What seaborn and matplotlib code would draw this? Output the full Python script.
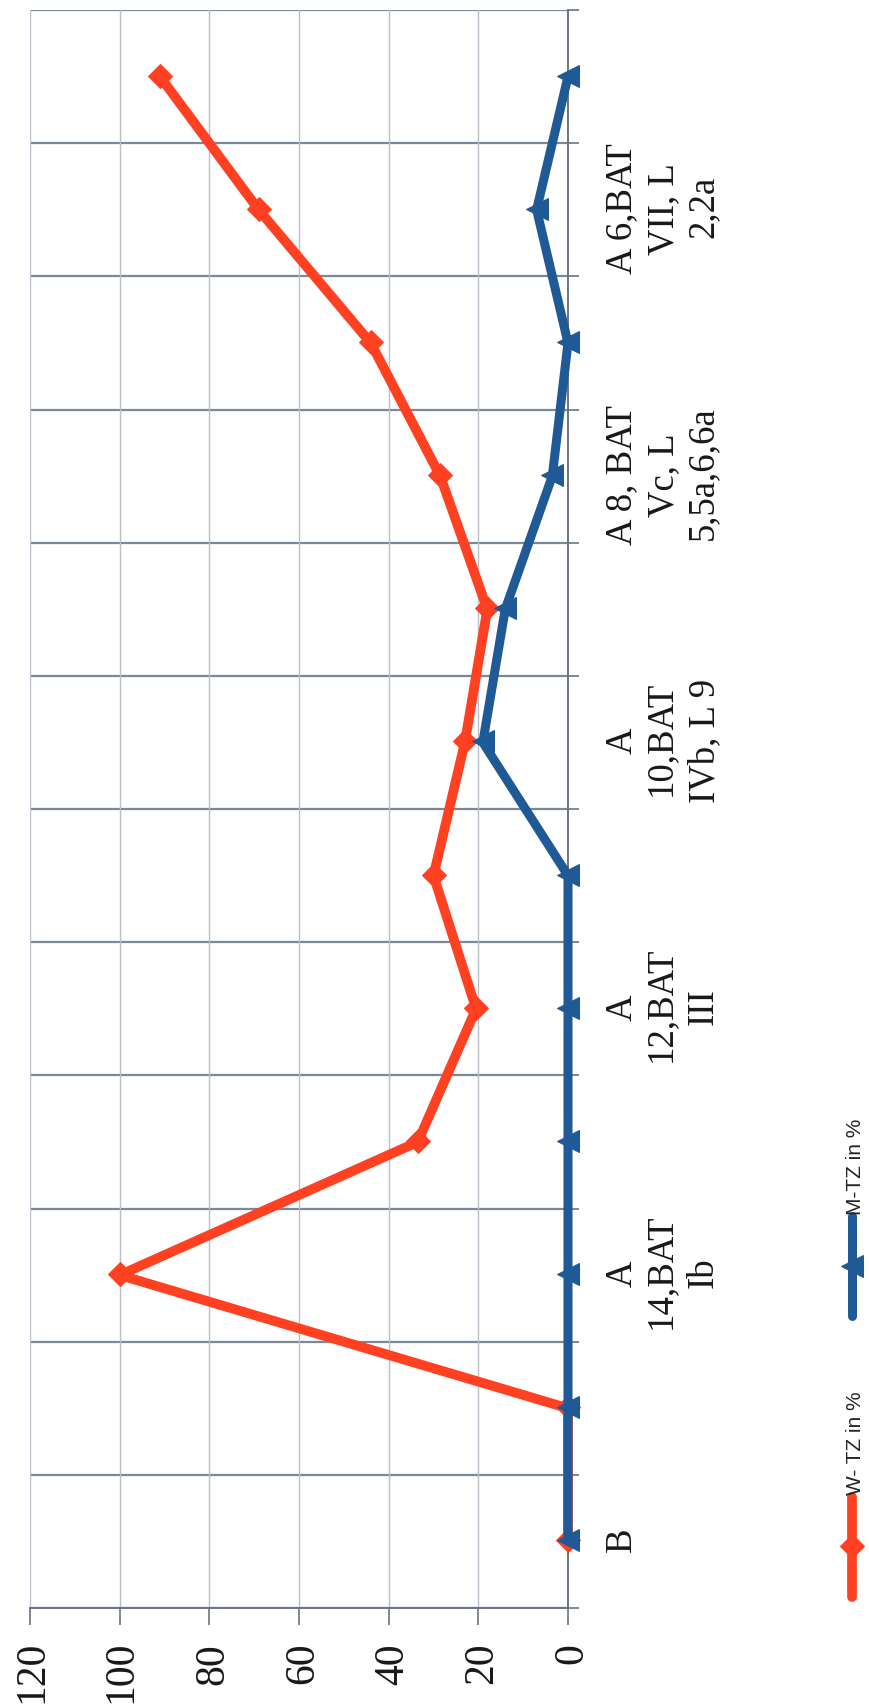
import numpy as np
import pandas as pd
import matplotlib
matplotlib.use("Agg")
import matplotlib.pyplot as plt
from matplotlib.ticker import NullFormatter
import seaborn as sns

# Layer sequence (bottom layer "B" first) and the two percentage series
sample_pos = [0, 1, 2, 3, 4, 5, 6, 7, 8, 9, 10, 11]
w_tz = [0, 0, 100, 33.5, 20.5, 30, 23, 18, 28.5, 44, 69, 91]
m_tz = [0, 0, 0, 0, 0, 0, 19, 14, 3.5, 0, 7, 0]

# Every second layer carries a label on the category axis
label_pos = [0, 2, 4, 6, 8, 10]
layer_labels = [
    "B",
    "A\n14,BAT\nIb",
    "A\n12,BAT\nIII",
    "A\n10,BAT\nIVb, L 9",
    "A 8, BAT\nVc, L\n5,5a,6,6a",
    "A 6,BAT\nVII, L\n2,2a",
]
value_ticks = [0, 20, 40, 60, 80, 100, 120]
series_names = ["W- TZ in %", "M-TZ in %"]

ORANGE = "#FF4122"
BLUE = "#1F5A96"
GRID_DARK = "#7D8896"
GRID_LIGHT = "#B9C0C9"
AXIS = "#6A7480"

sns.set_theme(style="white")
plt.rcParams["font.family"] = ["Liberation Serif", "DejaVu Serif"]

# The chart is laid out landscape and turned a quarter turn for the page
W, H = 1706, 869
fig = plt.figure(figsize=(W / 100, H / 100), dpi=100)
fig.patch.set_facecolor("white")
ax = fig.add_axes([97 / W, 1 - 568 / H, (1695 - 97) / W, (568 - 30) / H])

df = pd.DataFrame({"pos": sample_pos, "W": w_tz, "M": m_tz})
sns.lineplot(data=df, x="pos", y="W", ax=ax, color=ORANGE, linewidth=7,
             marker="D", markersize=12, mec=ORANGE, mfc=ORANGE,
             label=series_names[0], clip_on=False, zorder=3)
sns.lineplot(data=df, x="pos", y="M", ax=ax, color=BLUE, linewidth=6.5,
             marker="^", markersize=16, mec=BLUE, mfc=BLUE,
             label=series_names[1], clip_on=False, zorder=4)

ax.set_xlim(-0.5, 11.5)
ax.set_ylim(0, 120)
ax.set_xlabel("")
ax.set_ylabel("")

# Category axis: tick marks and grid on the layer boundaries, labels centred
ax.set_xticks(np.arange(-0.5, 12, 1))
ax.xaxis.set_major_formatter(NullFormatter())
ax.set_xticks(label_pos, minor=True)
ax.set_xticklabels(layer_labels, minor=True, fontsize=26.5, linespacing=1.25)
ax.tick_params(axis="x", which="major", bottom=True, length=8, width=1.2,
               color=AXIS, direction="out")
ax.tick_params(axis="x", which="minor", bottom=True, length=0, pad=26,
               labelcolor="#1a1a1a")

# Value axis
ax.set_yticks(value_ticks)
ax.set_yticklabels([str(v) for v in value_ticks], fontsize=30)
ax.tick_params(axis="y", which="major", left=True, length=12, width=1.2,
               color=AXIS, direction="out", pad=15, labelcolor="#1a1a1a")

ax.grid(True, axis="x", which="major", color=GRID_DARK, linewidth=1.6)
ax.grid(True, axis="y", which="major", color=GRID_LIGHT, linewidth=1.0)
ax.set_axisbelow(True)

for side in ["top", "right"]:
    ax.spines[side].set_visible(False)
for side in ["left", "bottom"]:
    ax.spines[side].set_color(AXIS)
    ax.spines[side].set_linewidth(1.4)

handles, labels = ax.get_legend_handles_labels()
ax.get_legend().remove()
fig.legend(handles, labels, loc="center left",
           bbox_to_anchor=(108 / W, 1 - 854 / H), ncol=2, frameon=False,
           prop={"family": "Liberation Sans", "size": 15},
           handlelength=4.8, handletextpad=0.05, columnspacing=3.6,
           borderpad=0, borderaxespad=0, numpoints=1)

fig.canvas.draw()
img = np.asarray(fig.canvas.buffer_rgba())
plt.imsave("out.png", np.rot90(img))
